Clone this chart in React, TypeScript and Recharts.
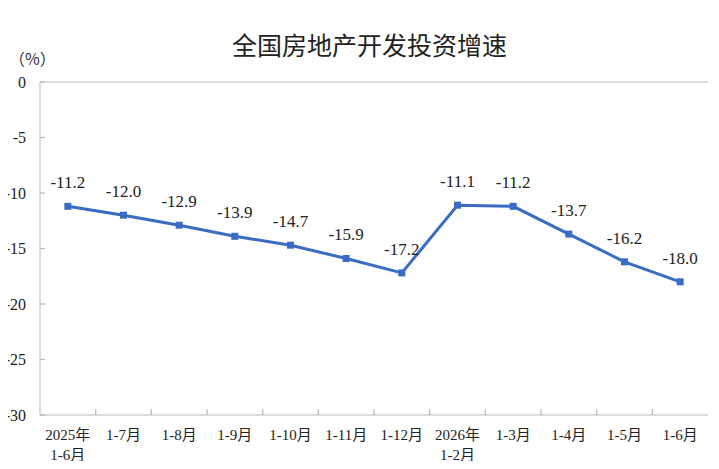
import React from "react";
import {
  LineChart,
  Line,
  XAxis,
  YAxis,
  ReferenceLine,
  LabelList,
} from "recharts";

const periods = [
  "2025年\n1-6月",
  "1-7月",
  "1-8月",
  "1-9月",
  "1-10月",
  "1-11月",
  "1-12月",
  "2026年\n1-2月",
  "1-3月",
  "1-4月",
  "1-5月",
  "1-6月",
];
const growth = [-11.2, -12.0, -12.9, -13.9, -14.7, -15.9, -17.2, -11.1, -11.2, -13.7, -16.2, -18.0];
const yTicks = [0, -5, -10, -15, -20, -25, -30];

const data = periods.map((p, i) => ({ period: p, value: growth[i] }));

const BLUE = "#3a6cc4";
const AXIS = "#b8b8b8";
const SERIF = "'Liberation Serif', 'Times New Roman', 'Noto Sans CJK SC', serif";

function PeriodTick(props: any) {
  const { x, y, payload, index, visibleTicksCount, width } = props;
  const lines = String(payload.value).split("\n");
  const count = visibleTicksCount || periods.length;
  const half = payload.offset || width / count / 2;
  return (
    <g>
      {index < count - 1 && (
        // mark pointing up into the plot, between this category and the next
        <line x1={x + half} x2={x + half} y1={y} y2={y - 6} stroke={AXIS} strokeWidth={1.2} />
      )}
      <text x={x} y={y} textAnchor="middle" fill="#222" fontSize={15} style={{ fontFamily: SERIF }}>
        {lines.map((l, i) => (
          <tspan key={i} x={x} y={y + 25 + i * 20}>
            {l}
          </tspan>
        ))}
      </text>
    </g>
  );
}

function ValueTick(props: any) {
  const { x, y, payload } = props;
  return (
    <g>
      <line x1={x} x2={x + 5} y1={y} y2={y} stroke={AXIS} strokeWidth={1.2} />
      <text
        x={x - 14}
        y={y + 5.5}
        textAnchor="end"
        fill="#222"
        fontSize={16}
        style={{ fontFamily: SERIF }}
      >
        {payload.value}
      </text>
    </g>
  );
}

function PointLabel(props: any) {
  const x = props.viewBox?.x ?? props.x;
  const y = props.viewBox?.y ?? props.y;
  return (
    <text
      x={x}
      y={y - 18}
      textAnchor="middle"
      fill="#222"
      fontSize={17}
      style={{ fontFamily: SERIF }}
    >
      {Number(props.value).toFixed(1)}
    </text>
  );
}

function SquareDot(props: any) {
  const { cx, cy, index } = props;
  return <rect key={index} x={cx - 3.5} y={cy - 3.5} width={7} height={7} fill={BLUE} />;
}

export default function App() {
  return (
    <div style={{ margin: -8, position: "relative", width: 719, height: 469, background: "#fff" }}>
      <div
        style={{
          position: "absolute",
          left: 232,
          top: 32,
          fontSize: 25,
          lineHeight: "25px",
          whiteSpace: "nowrap",
          color: "#222",
          fontFamily: "'Noto Sans CJK SC', sans-serif",
        }}
      >
        全国房地产开发投资增速
      </div>
      <div
        style={{
          position: "absolute",
          left: 9,
          top: 50,
          fontSize: 16,
          lineHeight: "16px",
          color: "#333",
          fontFamily: "'Noto Sans CJK SC', sans-serif",
        }}
      >
        （%）
      </div>
      <LineChart
        width={719}
        height={469}
        data={data}
        margin={{ top: 82, right: 11, bottom: 14, left: 0 }}
      >
        <XAxis
          dataKey="period"
          scale="band"
          height={40}
          interval={0}
          tickLine={false}
          tickSize={0}
          tickMargin={0}
          axisLine={{ stroke: AXIS }}
          tick={<PeriodTick />}
        />
        <YAxis
          width={40}
          domain={[-30, 0]}
          ticks={yTicks}
          interval={0}
          tickSize={0}
          tickMargin={0}
          tickLine={false}
          axisLine={{ stroke: AXIS }}
          tick={<ValueTick />}
        />
        <YAxis
          yAxisId="right"
          orientation="right"
          width={0}
          domain={[-30, 0]}
          tick={false}
          tickLine={false}
          axisLine={{ stroke: AXIS }}
        />
        <ReferenceLine y={0} stroke={AXIS} />
        <Line
          dataKey="value"
          stroke={BLUE}
          strokeWidth={3}
          dot={SquareDot}
          activeDot={false}
          isAnimationActive={false}
        >
          <LabelList dataKey="value" content={<PointLabel />} />
        </Line>
      </LineChart>
    </div>
  );
}
